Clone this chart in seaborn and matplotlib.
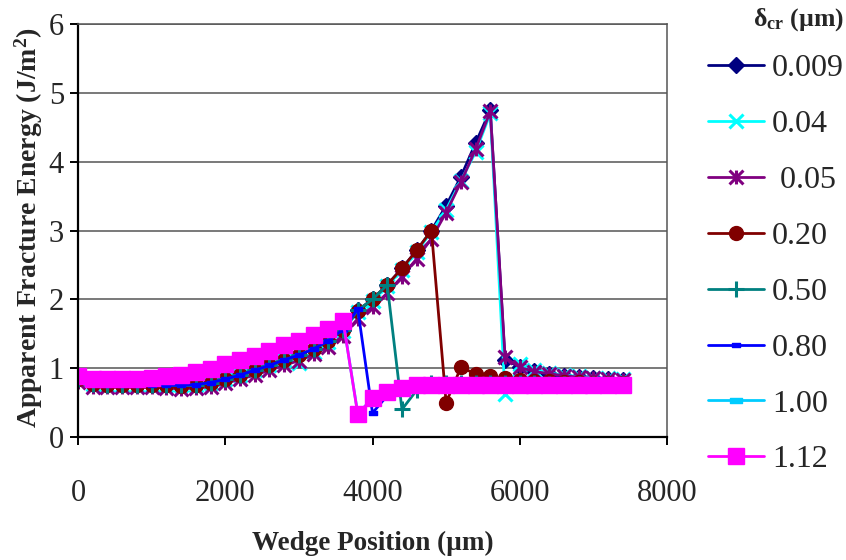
import matplotlib
matplotlib.use("Agg")
import matplotlib.pyplot as plt
import seaborn as sns
import pandas as pd
from matplotlib.path import Path
from matplotlib.lines import Line2D

# ---------------- data ----------------
wedge_position = [0, 200, 400, 600, 800, 1000, 1200, 1400, 1600, 1800,
                  2000, 2200, 2400, 2600, 2800, 3000, 3200, 3400, 3600, 3800,
                  4000, 4200, 4400, 4600, 4800, 5000, 5200, 5400, 5600, 5800,
                  6000, 6200, 6400, 6600, 6800, 7000, 7200, 7400]

e_0_009 = [0.84, 0.77, 0.76, 0.76, 0.76, 0.76, 0.75, 0.75, 0.76, 0.79,
           0.84, 0.90, 0.97, 1.04, 1.12, 1.19, 1.28, 1.40, 1.56, 1.84,
           2.00, 2.21, 2.45, 2.71, 3.00, 3.36, 3.78, 4.27, 4.75, 1.12,
           1.02, 0.96, 0.92, 0.89, 0.87, 0.85, 0.84, 0.83]
e_0_04 = [0.84, 0.77, 0.76, 0.76, 0.76, 0.76, 0.75, 0.75, 0.76, 0.79,
          0.84, 0.90, 0.97, 1.04, 1.12, 1.08, 1.24, 1.38, 1.54, 1.82,
          1.98, 2.19, 2.43, 2.69, 2.98, 3.30, 3.72, 4.14, 4.70, 0.63,
          1.06, 0.98, 0.93, 0.90, 0.88, 0.86, 0.85, 0.84]
e_0_05 = [0.80, 0.73, 0.72, 0.72, 0.72, 0.72, 0.71, 0.70, 0.71, 0.73,
          0.78, 0.84, 0.90, 0.97, 1.04, 1.11, 1.20, 1.31, 1.47, 1.72,
          1.89, 2.09, 2.33, 2.59, 2.88, 3.26, 3.70, 4.18, 4.73, 1.16,
          1.01, 0.95, 0.92, 0.89, 0.87, 0.85, 0.84, 0.83]
e_0_20 = [0.84, 0.77, 0.76, 0.76, 0.76, 0.76, 0.75, 0.74, 0.76, 0.79,
          0.84, 0.90, 0.97, 1.04, 1.12, 1.19, 1.28, 1.40, 1.56, 1.83,
          2.00, 2.21, 2.45, 2.71, 3.00, 0.50, 1.01, 0.92, 0.88, 0.85,
          0.83, 0.82, 0.81, 0.80, 0.80, 0.79, 0.79, 0.78]
e_0_50 = [0.84, 0.77, 0.76, 0.76, 0.76, 0.76, 0.75, 0.75, 0.76, 0.79,
          0.84, 0.90, 0.97, 1.04, 1.12, 1.19, 1.28, 1.40, 1.56, 1.84,
          2.00, 2.21, 0.40, 0.68, 0.78, 0.79, 0.79, 0.78, 0.78, 0.78,
          0.78, 0.78, 0.77, 0.77, 0.77, 0.77, 0.77, 0.77]
e_0_80 = [0.84, 0.77, 0.76, 0.76, 0.76, 0.76, 0.75, 0.75, 0.76, 0.79,
          0.84, 0.90, 0.97, 1.04, 1.12, 1.19, 1.28, 1.40, 1.56, 1.86,
          0.35, 0.60, 0.70, 0.74, 0.76, 0.76, 0.76, 0.76, 0.76, 0.76,
          0.76, 0.76, 0.76, 0.76, 0.76, 0.76, 0.76, 0.76]
e_1_00 = [0.88, 0.84, 0.84, 0.84, 0.84, 0.86, 0.88, 0.90, 0.94, 0.99,
          1.06, 1.12, 1.18, 1.25, 1.33, 1.40, 1.48, 1.57, 1.69, 0.34,
          0.56, 0.65, 0.71, 0.75, 0.76, 0.76, 0.76, 0.76, 0.76, 0.76,
          0.76, 0.76, 0.76, 0.76, 0.76, 0.75, 0.75, 0.75]
e_1_12 = [0.88, 0.84, 0.84, 0.84, 0.84, 0.86, 0.88, 0.90, 0.94, 0.99,
          1.06, 1.12, 1.18, 1.25, 1.33, 1.40, 1.48, 1.57, 1.69, 0.33,
          0.56, 0.65, 0.71, 0.75, 0.76, 0.76, 0.76, 0.76, 0.76, 0.76,
          0.76, 0.76, 0.76, 0.76, 0.76, 0.75, 0.75, 0.75]

series_labels = ["0.009", "0.04", " 0.05", "0.20", "0.50", "0.80", "1.00", "1.12"]
series_values = [e_0_009, e_0_04, e_0_05, e_0_20, e_0_50, e_0_80, e_1_00, e_1_12]

x_ticks = [0, 2000, 4000, 6000, 8000]
y_ticks = [0, 1, 2, 3, 4, 5, 6]

# ---------------- style ----------------
sns.set_theme(style="white")
plt.rcParams["font.family"] = ["Liberation Serif", "DejaVu Serif"]
plt.rcParams["mathtext.fontset"] = "custom"
plt.rcParams["mathtext.rm"] = "Liberation Serif"
plt.rcParams["mathtext.bf"] = "Liberation Serif:bold"
plt.rcParams["mathtext.it"] = "Liberation Serif:italic"

asterisk = Path([(0, -1), (0, 1), (-1, -1), (1, 1), (-1, 1), (1, -1)],
                [Path.MOVETO, Path.LINETO, Path.MOVETO, Path.LINETO,
                 Path.MOVETO, Path.LINETO])
wide_rect = Path([(-1, -0.45), (1, -0.45), (1, 0.45), (-1, 0.45), (-1, -0.45)],
                 [Path.MOVETO, Path.LINETO, Path.LINETO, Path.LINETO,
                  Path.CLOSEPOLY])

styles = [
    dict(color="#000080", marker="D", markersize=8, mew=1),
    dict(color="#00FFFF", marker="x", markersize=10, mew=2.2),
    dict(color="#800080", marker=asterisk, markersize=10, mew=2.2, mfc="none"),
    dict(color="#800000", marker="o", markersize=10, mew=1),
    dict(color="#008080", marker="+", markersize=11, mew=2.2),
    dict(color="#0000FF", marker=wide_rect, markersize=6, mew=1),
    dict(color="#00CCFF", marker=wide_rect, markersize=8, mew=1),
    dict(color="#FF00FF", marker="s", markersize=12, mew=1),
]

fig = plt.figure(figsize=(8.46, 5.6), dpi=100)
ax = fig.add_axes([78 / 846, 1 - 437 / 560, (667 - 78) / 846, (437 - 24) / 560])

handles = []
for lab, vals, st in zip(series_labels, series_values, styles):
    df = pd.DataFrame({"x": wedge_position, "y": vals})
    sns.lineplot(data=df, x="x", y="y", ax=ax, estimator=None, sort=False,
                 color=st["color"], linewidth=2, marker=st["marker"],
                 markersize=st["markersize"], markeredgewidth=st["mew"],
                 markeredgecolor=st["color"],
                 markerfacecolor=st.get("mfc", st["color"]), legend=False)
    handles.append(Line2D([], [], color=st["color"], linewidth=2,
                          marker=st["marker"], markersize=st["markersize"],
                          markeredgewidth=st["mew"], markeredgecolor=st["color"],
                          markerfacecolor=st.get("mfc", st["color"])))

ax.set_xlim(0, 8000)
ax.set_ylim(0, 6)
ax.set_xticks(x_ticks)
ax.set_yticks(y_ticks)
ax.set_xticklabels([str(t) for t in x_ticks], fontsize=22)
ax.set_yticklabels([str(t) for t in y_ticks], fontsize=22)
ax.yaxis.grid(True, color="#555555", linewidth=1.1)
ax.xaxis.grid(False)
ax.set_axisbelow(True)
for side in ["left", "bottom"]:
    ax.spines[side].set_color("black")
    ax.spines[side].set_linewidth(1.6)
for side in ["top", "right"]:
    ax.spines[side].set_color("#555555")
    ax.spines[side].set_linewidth(1.1)
ax.tick_params(axis="both", which="both", direction="out", length=6,
               width=1.4, color="black", left=True, bottom=True)
ax.tick_params(axis="x", pad=24)
ax.tick_params(axis="y", pad=4)

ax.set_xlabel("")
ax.set_ylabel("")
fig.text(373 / 846, 1 - 543 / 560, "Wedge Position (µm)", ha="center",
         va="center", fontsize=19.5, fontweight="bold")
fig.text(29 / 846, 1 - 228 / 560, r"Apparent Fracture Energy (J/m$^\mathbf{2}$)",
         ha="center", va="center", rotation=90, fontsize=20, fontweight="bold")

fig.text(844 / 846, 1 - 20 / 560, r"δ$_\mathbf{cr}$ (µm)", ha="right",
         va="center", fontsize=18.5, fontweight="bold")

leg = fig.legend(handles, series_labels, loc="upper left",
                 bbox_to_anchor=(708 / 846, 1 - 54 / 560), frameon=False,
                 fontsize=23, handlelength=1.75, handletextpad=0.25,
                 labelspacing=0.83, borderaxespad=0, borderpad=0)

fig.savefig("out.png", dpi=100)
